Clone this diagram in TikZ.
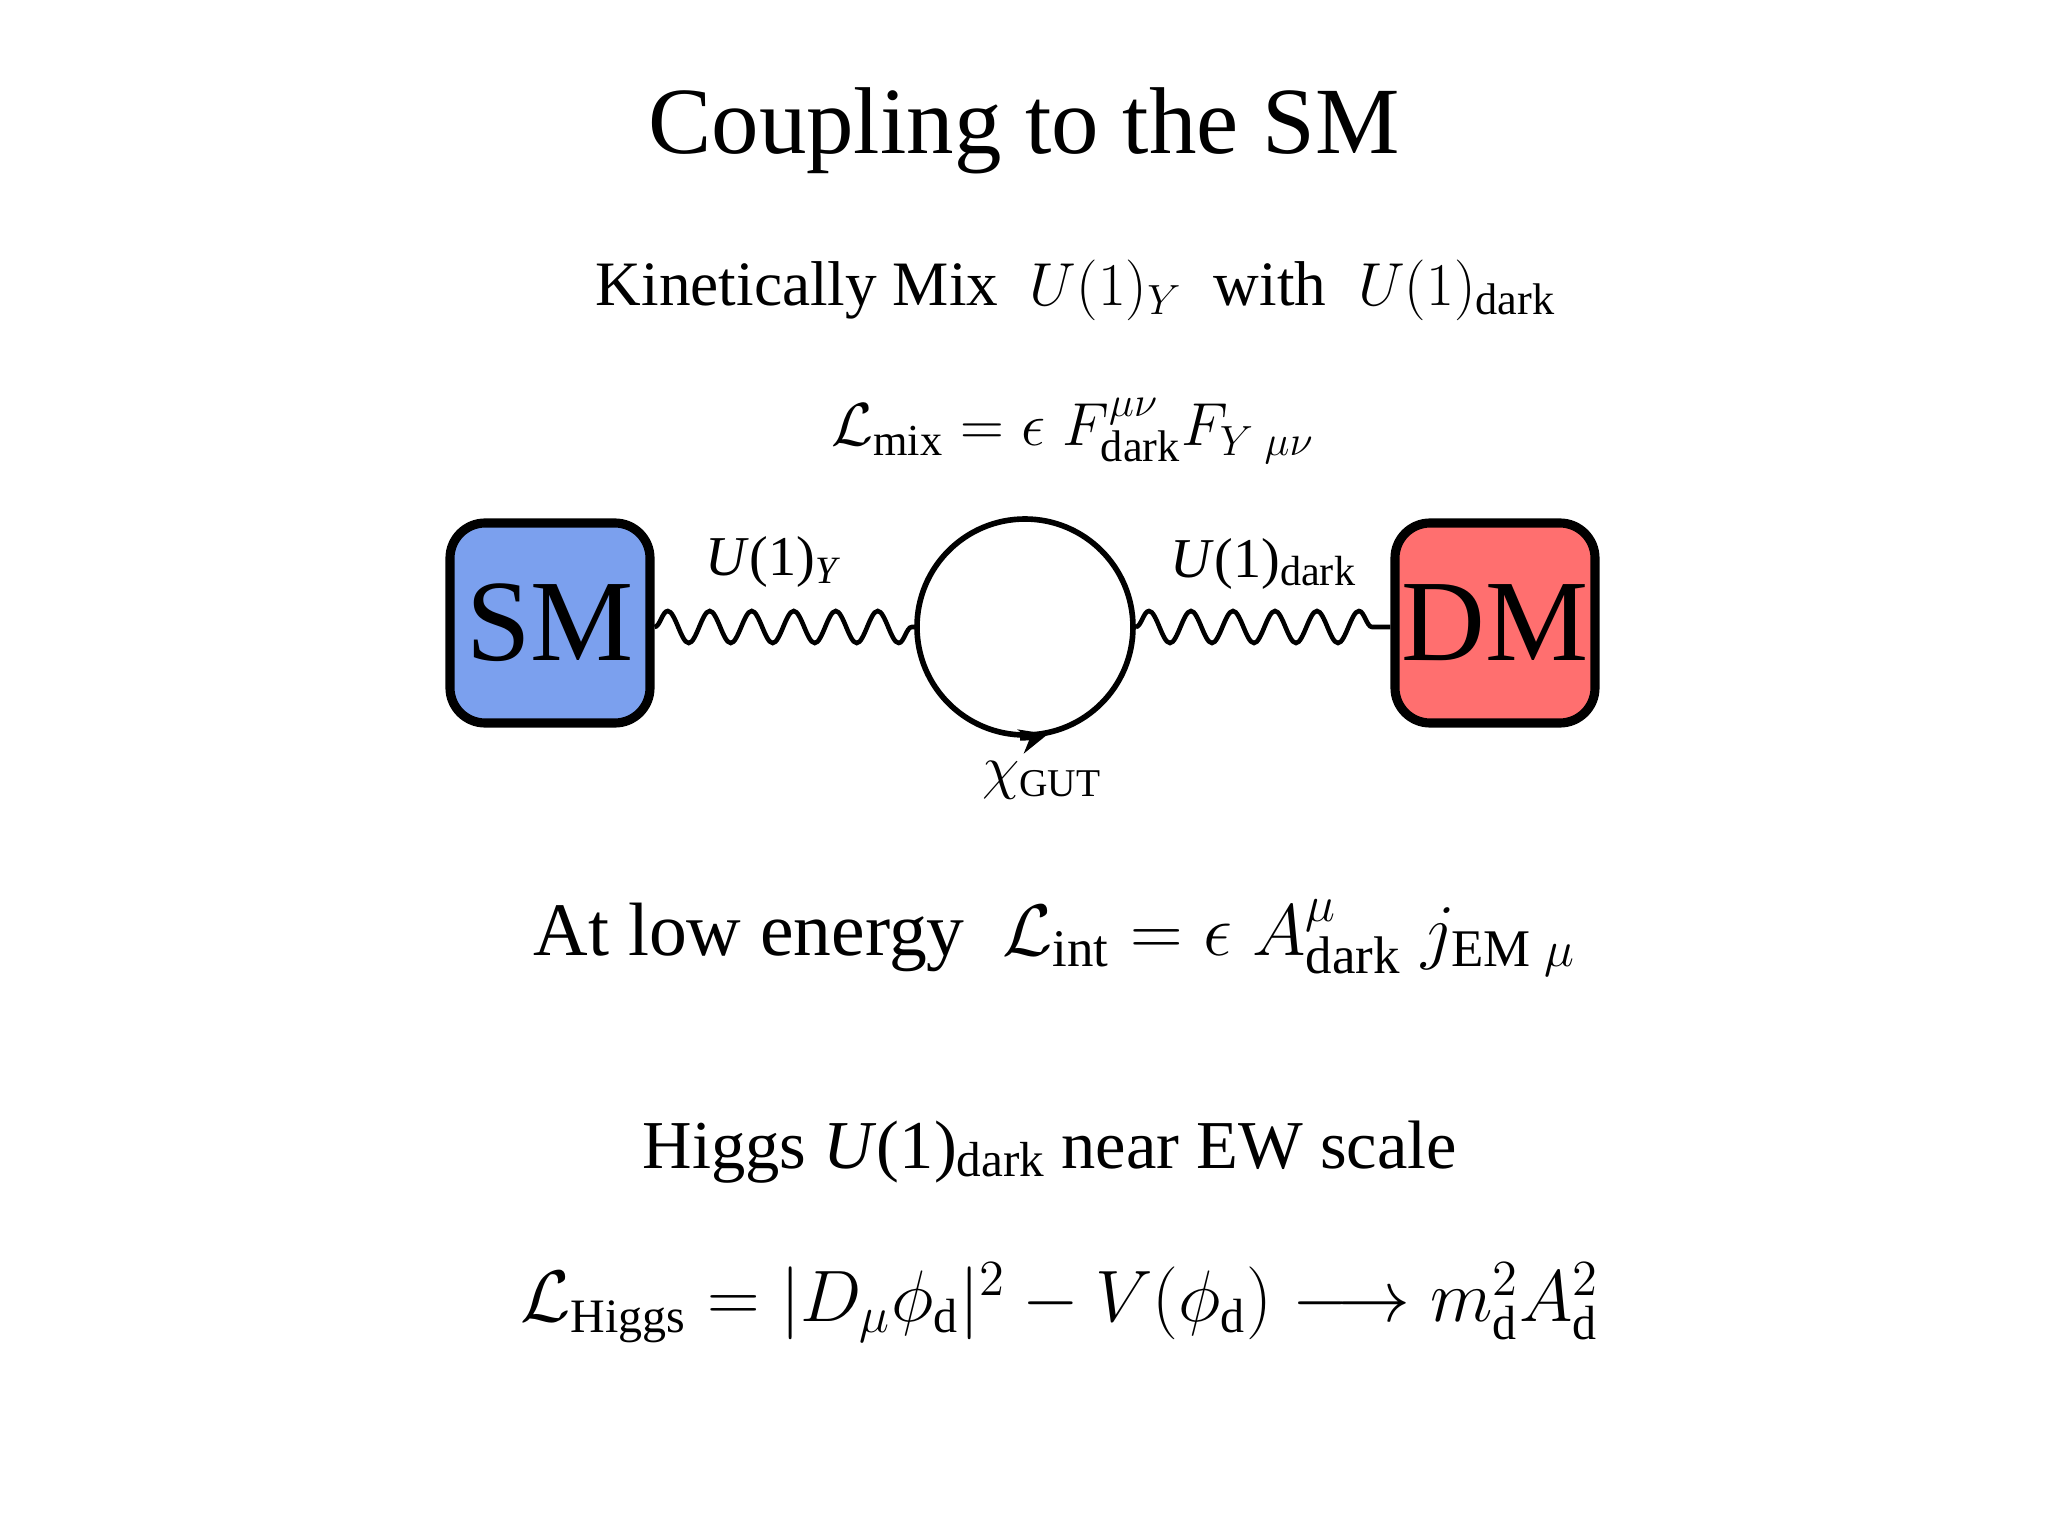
\documentclass[tikz,border=0pt]{standalone}
\usepackage{fontspec}
\setmainfont{Liberation Serif}
\usetikzlibrary{decorations.pathmorphing,decorations.markings,arrows.meta}
\begin{document}
\begin{tikzpicture}[
  box/.style={draw,line width=2.6pt,rounded corners=10pt,minimum size=2cm,inner sep=0pt,font=\fontsize{33}{36}\selectfont},
  wave/.style={decorate,decoration={snake,amplitude=0.16cm,segment length=0.42cm},line width=1.3pt},
  lab/.style={font=\fontsize{16}{19}\selectfont}
]
\useasboundingbox (0,0) rectangle (20.48,-15.36);
\definecolor{smblue}{HTML}{7BA0EE}
\definecolor{dmred}{HTML}{FF6F6F}
\node (title) at (10.24,-1.31) {\fontsize{27}{31}\selectfont Coupling to the SM};
\node (kin) at (10.76,-2.90) {\fontsize{18}{22}\selectfont Kinetically Mix\ \ $U(1)_Y$\ \ with\ \ $U(1)_{\rm dark}$};
\node (lmix) at (10.73,-4.31) {\fontsize{18}{22}\selectfont $\mathcal{L}_{\rm mix}=\epsilon\;F^{\mu\nu}_{\rm dark}F_{Y\;\mu\nu}$};
\node[box,fill=smblue] (sm) at (5.50,-6.23) {SM};
\node[box,fill=dmred] (dm) at (14.95,-6.23) {DM};
\node[circle,draw,line width=1.6pt,minimum size=2.16cm,inner sep=0pt] (loop) at (10.25,-6.27) {};
\draw[line width=1.6pt,-{Stealth[length=8pt,width=7pt]}] ([shift={(-0.05,0)}]loop.south) arc[start angle=-90,end angle=-75,radius=1.08cm];
\draw[wave] (sm.east|-loop.west) -- (loop.west);
\draw[wave] (loop.east) -- (dm.west|-loop.east);
\node[lab] (uy) at (7.73,-5.62) {\textit{U}(1)\raisebox{-0.3ex}{\fontsize{11}{13}\selectfont\textit{Y}}};
\node[lab] (ud) at (12.63,-5.64) {\textit{U}(1)\raisebox{-0.3ex}{\fontsize{12}{14}\selectfont dark}};
\node[lab] (chi) at (10.42,-7.80) {$\chi_{\rm\scriptsize GUT}$};
\node (low) at (10.55,-9.38) {\fontsize{21.5}{26}\selectfont At low energy\ \ $\mathcal{L}_{\rm int}=\epsilon\;A^{\mu}_{\rm dark}\;j_{{\rm\scriptsize EM}\;\mu}$};
\node (higgs) at (10.50,-11.52) {\fontsize{19.5}{23}\selectfont Higgs \textit{U}(1)\raisebox{-0.25ex}{\fontsize{14}{16}\selectfont dark} near EW scale};
\node (lh) at (10.60,-13.03) {\fontsize{19.5}{23}\selectfont $\mathcal{L}_{\rm Higgs}=|D_\mu\phi_{\rm d}|^2-V(\phi_{\rm d})\longrightarrow m_{\rm d}^2A_{\rm d}^2$};
\end{tikzpicture}
\end{document}
